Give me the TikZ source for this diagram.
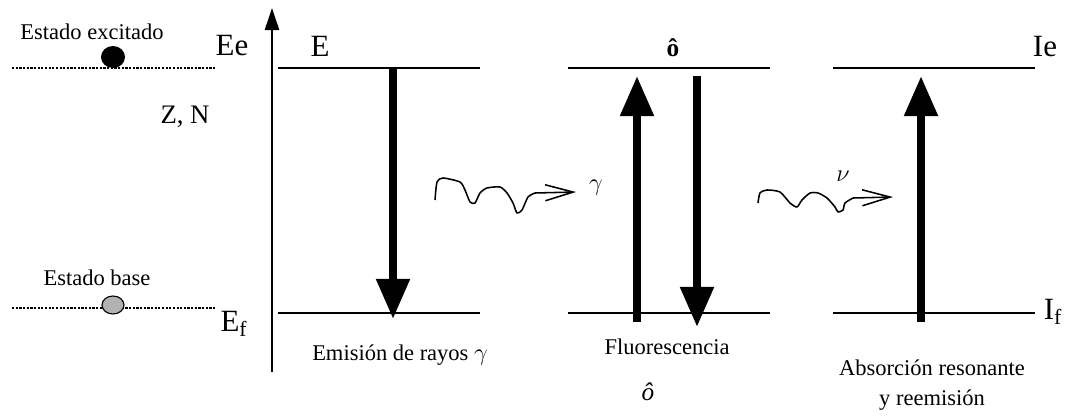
\documentclass[tikz,border=0pt]{standalone}
\usepackage{fontspec}
\setmainfont{Liberation Serif}
\usetikzlibrary{arrows.meta}

\tikzset{
  level/.style={line width=1.6pt},
  dotlevel/.style={densely dotted,line width=1.6pt},
  trans/.style={line width=5.7pt,-{Triangle[length=1cm,width=0.8cm]}},
  squiggle/.style={line width=1.1pt,line join=round},
  photon/.style={line width=1.1pt,-{Straight Barb[length=0.7cm,width=0.4cm]}},
  txt/.style={inner sep=0pt,font=\fontsize{16}{18}\selectfont},
  big/.style={inner sep=0pt,font=\fontsize{22}{24}\selectfont}
}

\begin{document}
\begin{tikzpicture}[x=0.025cm,y=-0.025cm]
\useasboundingbox (0,0) rectangle (1071,415);

% nucleus states on the left
\draw[dotlevel] (12,68) -- (215,68);
\draw[dotlevel] (12,308) -- (215,308);
\fill (113,57) ellipse [x radius=12,y radius=11];
\filldraw[fill=gray!60,line width=0.8pt] (113,305) ellipse [x radius=11,y radius=9];
\node[txt] (exc) at (92,32) {Estado excitado};
\node[txt] (base) at (97,278) {Estado base};
\node[txt,font=\fontsize{19}{21}\selectfont] (zn) at (185,117) {Z, N};
\node[big] (lblEe) at (232,46) {Ee};
\node[big] (lblEf) at (234,324) {E\textsubscript{f}};

% energy axis
\coordinate (axbot) at (272,372);
\coordinate (axtop) at (272,8);
\draw[line width=1.8pt,-{Triangle[length=0.55cm,width=0.35cm]}] (axbot) -- (axtop);
\node[big] (lblE) at (320,46) {E};

% levels
\foreach \xa/\xb in {278/480,568/770,833/1035} {
\draw[level] (\xa,68) -- (\xb,68);
\draw[level] (\xa,313) -- (\xb,313);
}
\node[big] (lblIe) at (1045,47) {Ie};
\node[big] (lblIf) at (1053,312) {I\textsubscript{f}};
\node[txt,font=\fontsize{18}{20}\selectfont\bfseries] (otop) at (673,48) {ô};

% transitions
\coordinate (d1a) at (393,68);
\coordinate (d1b) at (393,319);
\coordinate (u2a) at (637,322);
\coordinate (u2b) at (637,76);
\coordinate (d2a) at (697,76);
\coordinate (d2b) at (697,327);
\coordinate (u3a) at (921,322);
\coordinate (u3b) at (921,76);
\draw[trans] (d1a) -- (d1b);
\draw[trans] (u2a) -- (u2b);
\draw[trans] (d2a) -- (d2b);
\draw[trans] (u3a) -- (u3b);

% photons
\draw[squiggle] plot[smooth,tension=0.4] coordinates {(435,200) (437,182) (443,178) (460,182) (465,190) (470,202) (475,203) (480,193) (487,188) (500,187) (507,193) (513,203) (517,213) (522,210) (528,197) (535,193)};
\coordinate (p1a) at (535,193);
\coordinate (p1b) at (576,192);
\draw[photon] (p1a) -- (p1b);
\node[txt,font=\fontsize{19}{21}\selectfont] (gam1) at (596,188) {$\gamma$};

\draw[squiggle] plot[smooth,tension=0.4] coordinates {(758,203) (760,193) (767,190) (780,192) (790,203) (797,207) (802,200) (810,193) (818,193) (827,198) (835,207) (838,212) (843,210) (845,203) (853,198)};
\coordinate (p2a) at (853,198);
\coordinate (p2b) at (893,197);
\draw[photon] (p2a) -- (p2b);
\node[txt] (nu2) at (843,176) {$\nu$};

% captions
\node[txt] (cap1) at (400,355) {Emisión de rayos $\gamma$};
\node[txt] (cap2) at (667,347) {Fluorescencia};
\node[txt,font=\fontsize{18}{20}\selectfont\itshape] (obot) at (648,392) {ô};
\node[txt,align=center,font=\fontsize{16}{21}\selectfont] (cap3) at (932,385) {Absorción resonante\\y reemisión};

\end{tikzpicture}
\end{document}
